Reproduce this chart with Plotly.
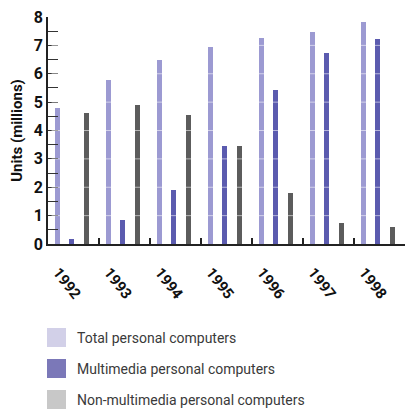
import plotly.graph_objects as go

years = ["1992", "1993", "1994", "1995", "1996", "1997", "1998"]
total = [4.8, 5.77, 6.48, 6.93, 7.26, 7.48, 7.84]
multimedia = [0.19, 0.84, 1.92, 3.47, 5.44, 6.74, 7.24]
non_multimedia = [4.61, 4.89, 4.53, 3.47, 1.80, 0.73, 0.60]

series_names = ["Total personal computers", "Multimedia personal computers",
                "Non-multimedia personal computers"]
bar_colors = ["#9c9ad2", "#5b5baf", "#5c5c5c"]
legend_colors = ["#d2d0e8", "#7b78b8", "#c8c8c8"]
offsets = [0.18, 0.455, 0.75]

W, H = 405, 412
ML, MR, MT, MB = 48, 0, 17, 168
PW, PH = W - ML - MR, H - MT - MB

FONT = "Roboto, Arial, sans-serif"

fig = go.Figure()
for vals, off, col, name in zip([total, multimedia, non_multimedia], offsets, bar_colors, series_names):
    fig.add_trace(go.Bar(
        x=[i + off for i in range(len(years))], y=vals, width=0.095,
        marker=dict(color=col, line=dict(width=0)), name=name, showlegend=False))

def px_to_paper_x(px):
    return (px - ML) / PW

def px_to_paper_y(py):
    return (H - MB - py) / PH

shapes = []
annotations = []
# subtle white grid notches over bars
for v in range(1, 8):
    shapes.append(dict(type="line", xref="paper", yref="y", x0=0.01, x1=1, y0=v, y1=v,
                       line=dict(color="rgba(255,255,255,0.55)", width=1), layer="above"))

leg_tops = [328, 359, 390]
for top, col, name in zip(leg_tops, legend_colors, series_names):
    shapes.append(dict(type="rect", xref="paper", yref="paper",
                       x0=px_to_paper_x(47), x1=px_to_paper_x(66),
                       y0=px_to_paper_y(top), y1=px_to_paper_y(top + 19),
                       fillcolor=col, line=dict(width=0)))
    annotations.append(dict(xref="paper", yref="paper", x=px_to_paper_x(75),
                            y=px_to_paper_y(top + 10), text=name, showarrow=False,
                            xanchor="left", yanchor="middle",
                            font=dict(family=FONT, size=14, color="#3a3a3a")))

fig.update_layout(
    width=W, height=H, margin=dict(l=ML, r=MR, t=MT, b=MB),
    paper_bgcolor="white", plot_bgcolor="white",
    bargap=0, showlegend=False,
    shapes=shapes, annotations=annotations,
    xaxis=dict(range=[0, 7], showgrid=False, zeroline=False,
               showline=True, linecolor="#222222", linewidth=1.5,
               tickmode="array", tickvals=[i + 0.2 for i in range(len(years))],
               ticktext=years, ticks="", tickangle=52, ticklabelstandoff=12,
               tickfont=dict(family=FONT, size=15, color="#111111", weight="bold"),
               minor=dict(tickmode="array", tickvals=list(range(1, 7)), ticks="inside",
                          ticklen=6, tickwidth=1.5, tickcolor="#222222", showgrid=False)),
    yaxis=dict(range=[0, 8], showgrid=False, zeroline=False,
               showline=True, linecolor="#222222", linewidth=1.5,
               tickmode="linear", tick0=0, dtick=1, ticks="inside", ticklen=10,
               tickwidth=1.2, tickcolor="#333333",
               tickfont=dict(family=FONT, size=16, color="#111111", weight="bold"),
               minor=dict(dtick=0.5, ticks="inside", ticklen=10, tickwidth=1.2,
                          tickcolor="#333333", showgrid=False),
               title=dict(text="Units (millions)", standoff=8,
                          font=dict(family=FONT, size=15, color="#111111", weight="bold"))),
)

fig.write_html("out.html")
